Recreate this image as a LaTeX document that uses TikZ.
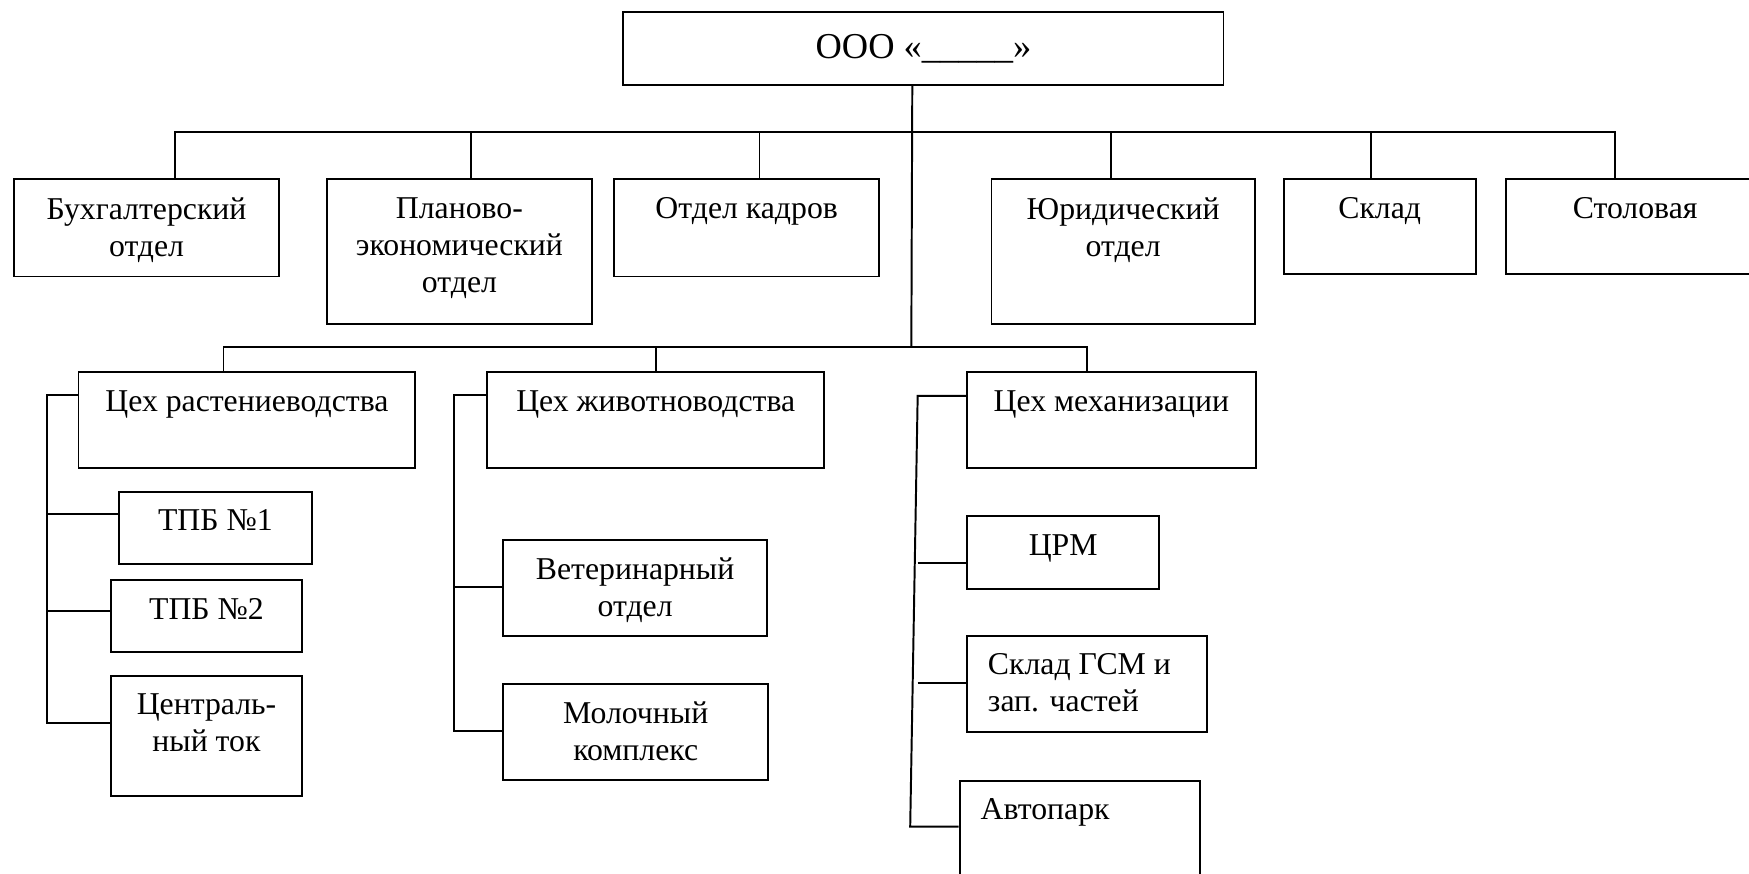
\documentclass[tikz,border=0pt]{standalone}
\usepackage{fontspec}
\setmainfont{Liberation Serif}
\usetikzlibrary{calc}

\tikzset{
  box/.style={draw, line width=0.5pt, anchor=north west, inner sep=0pt},
  txt/.style={anchor=north, align=center, inner sep=0pt, yshift=-0.164cm, font=\fontsize{8.1}{9.4}\selectfont},
  lft/.style={txt, anchor=north west, align=left, xshift=0.19cm},
  link/.style={line width=0.5pt},
}

\begin{document}
\begin{tikzpicture}[x=1.0cm,y=1.0cm]
\useasboundingbox (0,0) rectangle (15.68,-7.83);
\clip (0,0) rectangle (15.68,-7.83);
% head
\node[box, minimum width=5.38cm, minimum height=0.65cm, font=\fontsize{9.3}{11}\selectfont] (ooo) at (5.58,-0.10) {ООО «\_\_\_\_\_»};
% departments
\node[box, minimum width=2.37cm, minimum height=0.87cm, label={[txt]north:Бухгалтерский\\отдел}] (buh) at (0.12,-1.60) {};
\node[box, minimum width=2.38cm, minimum height=1.30cm, label={[txt]north:Планово-\\экономический\\отдел}] (plan) at (2.92,-1.60) {};
\node[box, minimum width=2.37cm, minimum height=0.87cm, label={[txt]north:Отдел кадров}] (kadr) at (5.50,-1.60) {};
\node[box, minimum width=2.36cm, minimum height=1.30cm, label={[txt]north:Юридический\\отдел}] (yur) at (8.88,-1.60) {};
\node[box, minimum width=1.72cm, minimum height=0.85cm, label={[txt]north:Склад}] (sklad) at (11.50,-1.60) {};
\node[box, minimum width=2.32cm, minimum height=0.85cm, label={[txt]north:Столовая}] (stol) at (13.49,-1.60) {};
% shops
\node[box, minimum width=3.02cm, minimum height=0.86cm, label={[txt]north:Цех растениеводства}] (rast) at (0.695,-3.33) {};
\node[box, minimum width=3.02cm, minimum height=0.86cm, label={[txt]north:Цех животноводства}] (zhiv) at (4.36,-3.33) {};
\node[box, minimum width=2.59cm, minimum height=0.86cm, label={[txt]north:Цех механизации}] (mekh) at (8.66,-3.33) {};
% units
\node[box, minimum width=1.725cm, minimum height=0.65cm, label={[txt]north:ТПБ №1}] (tpb1) at (1.06,-4.40) {};
\node[box, minimum width=1.715cm, minimum height=0.65cm, label={[txt]north:ТПБ №2}] (tpb2) at (0.985,-5.19) {};
\node[box, minimum width=1.715cm, minimum height=1.08cm, label={[txt]north:Централь-\\ный ток}] (cent) at (0.985,-6.05) {};
\node[box, minimum width=2.37cm, minimum height=0.86cm, label={[txt]north:Ветеринарный\\отдел}] (vet) at (4.50,-4.83) {};
\node[box, minimum width=2.38cm, minimum height=0.86cm, label={[txt]north:Молочный\\комплекс}] (mol) at (4.50,-6.12) {};
\node[box, minimum width=1.725cm, minimum height=0.65cm, label={[txt]north:ЦРМ}] (crm) at (8.66,-4.62) {};
\node[box, minimum width=2.155cm, minimum height=0.86cm, label={[lft]north west:Склад ГСМ и\\зап. частей}] (gsm) at (8.66,-5.69) {};
\node[box, minimum width=2.15cm, minimum height=1.30cm, label={[lft]north west:Автопарк}] (avto) at (8.595,-6.99) {};

% buses
\coordinate (hub) at (8.17,-1.18);
\coordinate (fork) at (8.17,-3.11);
\draw[link] ([xshift=-0.1cm]ooo.south) -- (fork);
\foreach \n/\s in {buh/0.255, plan/0.10, kadr/0.115, yur/-0.11, sklad/-0.08, stol/-0.18}
  \draw[link] ([xshift=\s cm]\n.north) |- (hub);
\foreach \n/\s in {rast/-0.21, zhiv/0, mekh/-0.215}
  \draw[link] ([xshift=\s cm]\n.north) |- (fork);

% brackets
\coordinate (rtop) at (0.425,-3.54);
\coordinate (rbot) at (0.425,-6.48);
\coordinate (r1) at (0.425,-4.61);
\coordinate (r2) at (0.425,-5.475);
\draw[link] (rast.west |- rtop) -- (rtop) -- (rbot) -- (cent.west |- rbot);
\draw[link] (r1) -- (tpb1.west |- r1);
\draw[link] (r2) -- (tpb2.west |- r2);

\coordinate (ztop) at (4.073,-3.545);
\coordinate (zbot) at (4.073,-6.55);
\coordinate (z1) at (4.073,-5.26);
\draw[link] (zhiv.west |- ztop) -- (ztop) -- (zbot) -- (mol.west |- zbot);
\draw[link] (z1) -- (vet.west |- z1);

\coordinate (mtop) at (8.227,-3.55);
\coordinate (mbot) at (8.16,-7.41);
\coordinate (m1) at (8.227,-5.05);
\coordinate (m2) at (8.227,-6.12);
\draw[link] (mekh.west |- mtop) -- (mtop) -- (mbot) -- (avto.west |- mbot);
\draw[link] (m1) -- (crm.west |- m1);
\draw[link] (m2) -- (gsm.west |- m2);
\end{tikzpicture}
\end{document}
